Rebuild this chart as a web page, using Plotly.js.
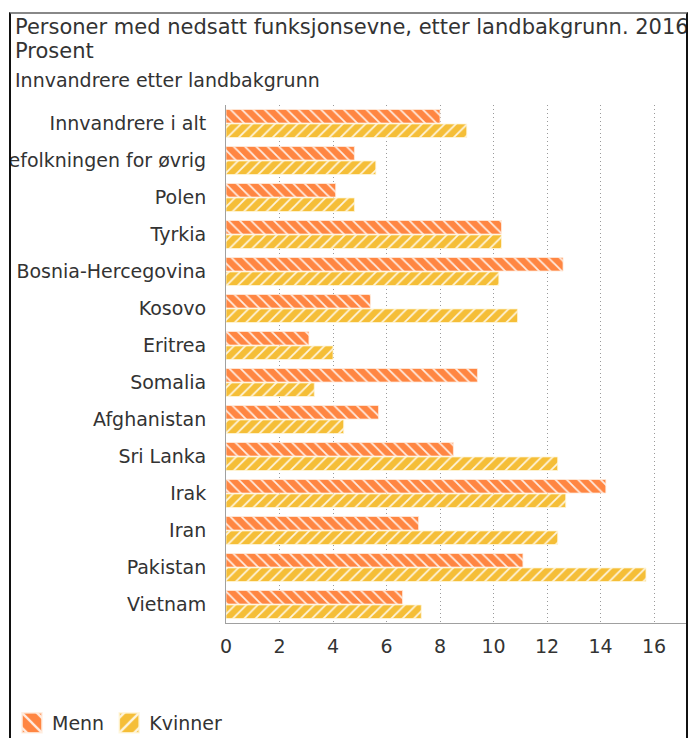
<!DOCTYPE html>
<html>
<head>
<meta charset="utf-8">
<script src="https://cdn.plot.ly/plotly-3.0.1.min.js"></script>
<style>
  html, body { margin:0; padding:0; background:#fff; overflow:hidden; }
  #frame { position:absolute; left:9px; top:12px; width:675px; height:740px;
           border-left:2px solid #111; border-right:2px solid #111; border-top:2px solid #888;
           overflow:hidden; background:#fff; }
  #chart { position:absolute; left:-11px; top:-14px; width:688px; height:738px; }
</style>
</head>
<body>
<div id="frame"><div id="chart"></div></div>
<script>
const categories = ["Innvandrere i alt", "Befolkningen for øvrig", "Polen", "Tyrkia",
  "Bosnia-Hercegovina", "Kosovo", "Eritrea", "Somalia", "Afghanistan", "Sri Lanka",
  "Irak", "Iran", "Pakistan", "Vietnam"];
const menn =    [8.0, 4.8, 4.1, 10.3, 12.6, 5.4, 3.1, 9.4, 5.7, 8.5, 14.2, 7.2, 11.1, 6.6];
const kvinner = [9.0, 5.6, 4.8, 10.3, 10.2, 10.9, 4.0, 3.3, 4.4, 12.4, 12.7, 12.4, 15.7, 7.3];
const seriesNames = ["Menn", "Kvinner"];
const xTicks = [0, 2, 4, 6, 8, 10, 12, 14, 16];

const titleLine1 = "Personer med nedsatt funksjonsevne, etter landbakgrunn. 2016";
const titleLine2 = "Prosent";
const subtitleText = "Innvandrere etter landbakgrunn";

const FONT = "DejaVu Sans, sans-serif";
const TXT = "#333333";

const traces = [
  {
    type: "bar", orientation: "h", name: seriesNames[0],
    y: categories, x: menn,
    marker: { color: "#ff8642",
      line: { color: "rgba(255,235,220,0.8)", width: 1 },
      pattern: { shape: "\\", fgcolor: "rgba(255,255,255,0.85)", bgcolor: "#ff8642", size: 8, solidity: 0.22 } },
    hoverinfo: "x+name"
  },
  {
    type: "bar", orientation: "h", name: seriesNames[1],
    y: categories, x: kvinner,
    marker: { color: "#f5be37",
      line: { color: "rgba(255,245,215,0.8)", width: 1 },
      pattern: { shape: "/", fgcolor: "rgba(255,255,255,0.85)", bgcolor: "#f5be37", size: 8, solidity: 0.22 } },
    hoverinfo: "x+name"
  }
];

function annot(text, xPx, yPx, size) {
  return { text: text, xref: "paper", yref: "paper", showarrow: false,
    x: (xPx - 226) / 462, xanchor: "left", y: 1 + (105 - yPx) / 518, yanchor: "middle",
    font: { family: FONT, size: size, color: TXT } };
}

const layout = {
  width: 688, height: 738,
  margin: { l: 226, r: 0, t: 105, b: 115, pad: 0 },
  paper_bgcolor: "rgba(0,0,0,0)", plot_bgcolor: "#fff",
  font: { family: FONT, color: TXT, size: 19 },
  barmode: "group", bargap: 0.22, bargroupgap: 0.06,
  annotations: [
    annot(titleLine1, 13, 27, 21),
    annot(titleLine2, 13, 51, 21),
    annot(subtitleText, 13, 80, 19)
  ],
  xaxis: {
    range: [0, 462 / 26.75], tickvals: xTicks, ticktext: xTicks.map(String),
    showgrid: true, gridcolor: "#9a9a9a", griddash: "1px,3px", gridwidth: 1,
    zeroline: false, showline: true, linecolor: "#a0a0a0", linewidth: 1,
    ticks: "", ticklabelstandoff: 6,
    tickfont: { family: FONT, size: 19, color: TXT }, fixedrange: true
  },
  yaxis: {
    autorange: "reversed", type: "category",
    showgrid: false, zeroline: false, showline: true, linecolor: "#a0a0a0", linewidth: 1,
    ticks: "", ticklabelstandoff: 15,
    tickfont: { family: FONT, size: 19, color: TXT }, fixedrange: true
  },
  showlegend: true,
  legend: {
    orientation: "h", xref: "container", yref: "container",
    x: 12/688, xanchor: "left", y: 15/738, yanchor: "middle",
    font: { family: FONT, size: 19, color: TXT },
    traceorder: "normal", bgcolor: "rgba(0,0,0,0)"
  }
};

Plotly.newPlot("chart", traces, layout, { displayModeBar: false, staticPlot: true }).then(function (gd) {
  // enlarge the legend swatches to match the reference's 20px squares
  gd.querySelectorAll(".legend .legendpoints path").forEach(function (p) {
    const t = p.getAttribute("transform") || "";
    p.setAttribute("transform", t + " scale(1.65)");
  });
});
</script>
</body>
</html>
